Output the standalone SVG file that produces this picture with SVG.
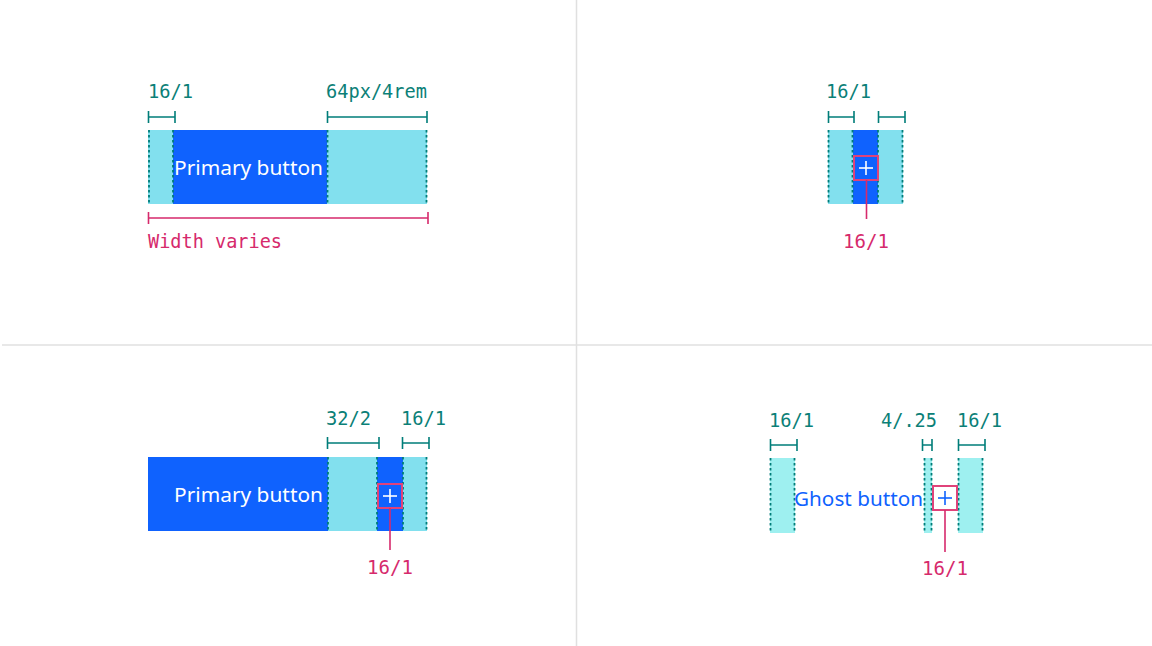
<svg xmlns="http://www.w3.org/2000/svg" width="1152" height="646" viewBox="0 0 1152 646">
<style>
.bg{fill:#ffffff}
.div{stroke:#e0e0e0;stroke-width:1.5;fill:none}
.cy{fill:#82e0ee}
.aq{fill:#9ef0f0}
.bl{fill:#0f62fe}
.dash{stroke:#007d79;stroke-width:1.8;stroke-dasharray:2.5 2.5;fill:none}
.tb{stroke:#007d79;stroke-width:1.6;fill:none}
.pb{stroke:#d62a6c;stroke-width:1.6;fill:none}
.pbox{stroke:#e0427a;stroke-width:2;fill:none}
.tl{font-family:"DejaVu Sans Mono","Liberation Mono",monospace;font-size:19px;fill:#0b8077}
.pl{font-family:"DejaVu Sans Mono","Liberation Mono",monospace;font-size:19px;fill:#d62a6c}
.btn{font-family:"Noto Sans","Liberation Sans",sans-serif;font-size:20px;fill:#ffffff}
.gbtn{font-family:"Noto Sans","Liberation Sans",sans-serif;font-size:20px;fill:#0f62fe}
.plusw{stroke:#ffffff;stroke-width:1.6}
.plusb{stroke:#0f62fe;stroke-width:1.6}
</style>
<rect class="bg" x="0" y="0" width="1152" height="646"/>
<g id="dividers">
<line class="div" x1="576.5" y1="0" x2="576.5" y2="646"/>
<line class="div" x1="2" y1="345" x2="1152" y2="345"/>
</g>

<g id="panel1">
<rect class="cy" x="148" y="130" width="279" height="74"/>
<rect class="bl" x="173" y="130" width="154" height="74"/>
<line class="dash" x1="149" y1="130" x2="149" y2="204"/>
<line class="dash" x1="173" y1="130" x2="173" y2="204"/>
<line class="dash" x1="327.5" y1="130" x2="327.5" y2="204"/>
<line class="dash" x1="426.5" y1="130" x2="426.5" y2="204"/>
<text class="btn" x="174" y="175" textLength="149" lengthAdjust="spacingAndGlyphs">Primary button</text>
<text class="tl" x="148" y="98" textLength="45" lengthAdjust="spacingAndGlyphs">16/1</text>
<text class="tl" x="326" y="98" textLength="101" lengthAdjust="spacingAndGlyphs">64px/4rem</text>
<text class="pl" x="148" y="248" textLength="134" lengthAdjust="spacingAndGlyphs">Width varies</text>
</g>

<g id="panel2">
<rect class="cy" x="828" y="130" width="75" height="74"/>
<rect class="bl" x="853" y="130" width="25" height="74"/>
<line class="dash" x1="828.5" y1="130" x2="828.5" y2="204"/>
<line class="dash" x1="852.5" y1="130" x2="852.5" y2="204"/>
<line class="dash" x1="878" y1="130" x2="878" y2="204"/>
<line class="dash" x1="902.5" y1="130" x2="902.5" y2="204"/>
<rect class="pbox" x="854" y="156" width="24" height="24"/>
<line class="plusw" x1="859" y1="168" x2="873" y2="168"/>
<line class="plusw" x1="866" y1="161" x2="866" y2="175"/>
<text class="tl" x="826" y="98" textLength="45" lengthAdjust="spacingAndGlyphs">16/1</text>
<text class="pl" x="866" y="248" text-anchor="middle">16/1</text>
</g>

<g id="panel3">
<rect class="bl" x="148" y="457" width="180" height="74"/>
<rect class="cy" x="328" y="457" width="49" height="74"/>
<rect class="bl" x="377" y="457" width="26" height="74"/>
<rect class="cy" x="403" y="457" width="24" height="74"/>
<line class="dash" x1="328" y1="457" x2="328" y2="531"/>
<line class="dash" x1="377" y1="457" x2="377" y2="531"/>
<line class="dash" x1="403" y1="457" x2="403" y2="531"/>
<line class="dash" x1="426.5" y1="457" x2="426.5" y2="531"/>
<text class="btn" x="174" y="502" textLength="149" lengthAdjust="spacingAndGlyphs">Primary button</text>
<rect class="pbox" x="378" y="484" width="24" height="24"/>
<line class="plusw" x1="383" y1="496" x2="397" y2="496"/>
<line class="plusw" x1="390" y1="489" x2="390" y2="503"/>
<text class="tl" x="326" y="425" textLength="45" lengthAdjust="spacingAndGlyphs">32/2</text>
<text class="tl" x="401" y="425" textLength="45" lengthAdjust="spacingAndGlyphs">16/1</text>
<text class="pl" x="390" y="574" text-anchor="middle">16/1</text>
</g>

<g id="panel4">
<rect class="aq" x="770" y="458" width="25" height="75"/>
<rect class="aq" x="924" y="458" width="8" height="75"/>
<rect class="aq" x="958" y="458" width="25" height="75"/>
<line class="dash" x1="770.5" y1="458" x2="770.5" y2="533"/>
<line class="dash" x1="794.5" y1="458" x2="794.5" y2="533"/>
<line class="dash" x1="924.5" y1="458" x2="924.5" y2="533"/>
<line class="dash" x1="931.5" y1="458" x2="931.5" y2="533"/>
<line class="dash" x1="958.5" y1="458" x2="958.5" y2="533"/>
<line class="dash" x1="982.5" y1="458" x2="982.5" y2="533"/>
<text class="gbtn" x="794" y="506" textLength="129" lengthAdjust="spacingAndGlyphs">Ghost button</text>
<rect class="pbox" x="933" y="486" width="24" height="24"/>
<line class="plusb" x1="938" y1="498" x2="952" y2="498"/>
<line class="plusb" x1="945" y1="491" x2="945" y2="505"/>
<text class="tl" x="769" y="427" textLength="45" lengthAdjust="spacingAndGlyphs">16/1</text>
<text class="tl" x="881" y="427" textLength="56" lengthAdjust="spacingAndGlyphs">4/.25</text>
<text class="tl" x="957" y="427" textLength="45" lengthAdjust="spacingAndGlyphs">16/1</text>
<text class="pl" x="945" y="575" text-anchor="middle">16/1</text>
</g>

<g id="connectors">
<path class="tb" d="M148.5 111v12M148.5 117H175M175 111v12"/>
<path class="tb" d="M327.5 111v12M327.5 117H427M427 111v12"/>
<path class="pb" d="M148.5 212v12M148.5 218H428M428 212v12"/>
<path class="tb" d="M828.5 111v12M828.5 117H854M854 111v12"/>
<path class="tb" d="M878.5 111v12M878.5 117H905M905 111v12"/>
<path class="pb" d="M866.5 180V219"/>
<path class="tb" d="M327.5 437v12M327.5 443H379M379 437v12"/>
<path class="tb" d="M402.5 437v12M402.5 443H429M429 437v12"/>
<path class="pb" d="M390 508V550"/>
<path class="tb" d="M770.5 439v12M770.5 445H797M797 439v12"/>
<path class="tb" d="M922.5 439v12M922.5 445H932M932 439v12"/>
<path class="tb" d="M958.5 439v12M958.5 445H985M985 439v12"/>
<path class="pb" d="M945 510V552"/>
</g>
</svg>
